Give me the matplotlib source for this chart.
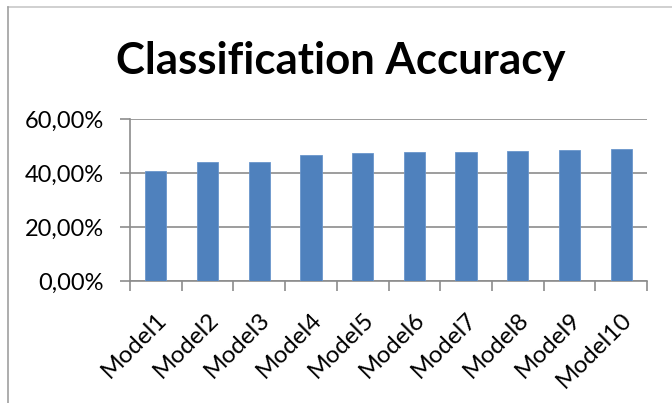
import matplotlib
matplotlib.use("Agg")
import matplotlib.pyplot as plt
from matplotlib.lines import Line2D
from matplotlib.ticker import FixedLocator, FuncFormatter
import numpy as np

categories = ["Model1", "Model2", "Model3", "Model4", "Model5",
              "Model6", "Model7", "Model8", "Model9", "Model10"]
accuracy = [40.7, 44.2, 44.2, 46.7, 47.4, 47.6, 47.8, 48.0, 48.4, 48.9]
yticks = [0, 20, 40, 60]
title = "Classification Accuracy"

plt.rcParams['font.family'] = ['Lato', 'DejaVu Sans']

W, H = 672, 403
fig = plt.figure(figsize=(W / 100, H / 100), dpi=100)
ax = fig.add_axes([130 / W, 1 - 281 / H, (647 - 130) / W, (281 - 119) / H])

x = np.arange(len(categories))
ax.bar(x, accuracy, width=0.41, color="#4F81BD", edgecolor="#6A96CC", linewidth=0.6, zorder=3)

ax.set_xlim(-0.5, len(categories) - 0.5)
ax.set_ylim(0, 60)
ax.yaxis.set_major_locator(FixedLocator(yticks))
ax.yaxis.set_major_formatter(FuncFormatter(lambda v, p: f"{v:.2f}%".replace(".", ",")))
ax.grid(axis="y", color="#8C8C8C", linewidth=1.2, zorder=0)

ax.xaxis.set_major_locator(FixedLocator(np.arange(-0.5, len(categories), 1.0)))
ax.xaxis.set_major_formatter(FuncFormatter(lambda v, p: ""))
ax.xaxis.set_minor_locator(FixedLocator(x))
ax.set_xticklabels(categories, minor=True, rotation=45, ha="right", rotation_mode="anchor")
ax.tick_params(axis="x", which="minor", length=0, pad=20, labelsize=17.5)
ax.tick_params(axis="x", which="major", length=7, width=1.2, color="#8C8C8C", direction="out")
ax.tick_params(axis="y", length=7, width=1.2, color="#8C8C8C", direction="out", labelsize=17, pad=12)

for s in ["top", "right"]:
    ax.spines[s].set_visible(False)
for s in ["left", "bottom"]:
    ax.spines[s].set_color("#8C8C8C")
    ax.spines[s].set_linewidth(1.2)

fig.text(341 / W, 1 - 74 / H, title, ha="center", va="baseline",
         fontsize=31.5, fontweight="bold", color="black")

fig.add_artist(Line2D([8 / W, 1], [1 - 7 / H, 1 - 7 / H], color="#C8C8C8", linewidth=1.2))
fig.add_artist(Line2D([8 / W, 8 / W], [0, 1 - 7 / H], color="#A0A0A0", linewidth=1.2))

fig.savefig("out.png", dpi=100)
